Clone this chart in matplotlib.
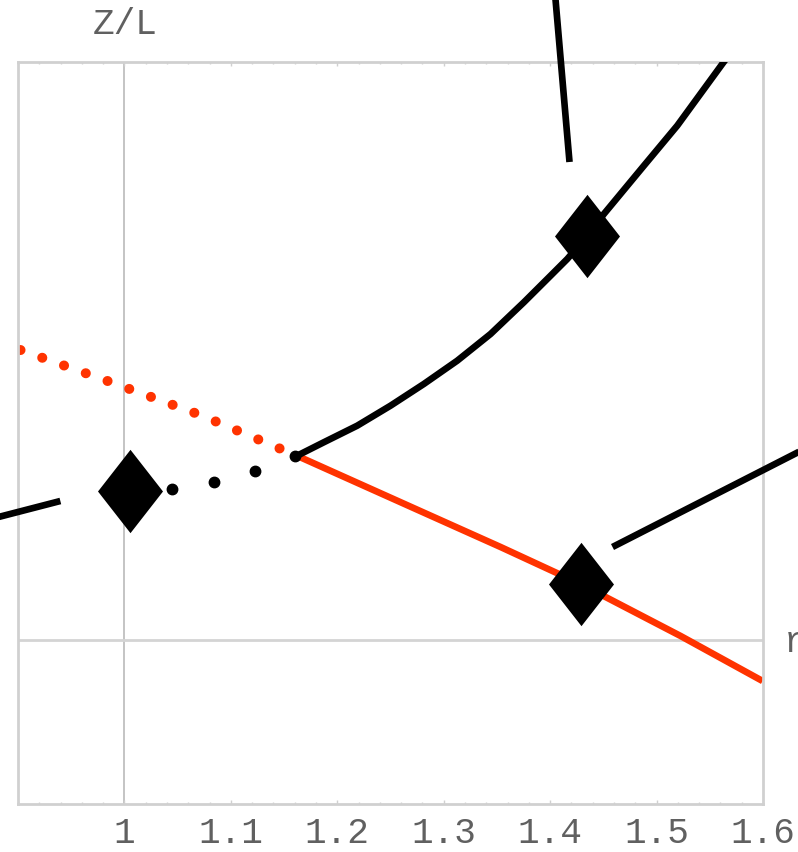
import matplotlib.pyplot as plt
from matplotlib.path import Path

# upper (black) branch, starts at the bifurcation point
upper_r = [1.1623, 1.1873, 1.2187, 1.2500, 1.2813, 1.3127, 1.3440, 1.3753, 1.4004,
           1.4161, 1.4349, 1.4505, 1.4881, 1.5194, 1.5617, 1.5645]
upper_z = [0.9215, 0.9885, 1.0715, 1.1715, 1.28, 1.3965, 1.53, 1.6885, 1.8215,
           1.905, 2.0215, 2.13, 2.3715, 2.5715, 2.88, 2.90]

# lower (red) branch, solid part
lower_r = [1.1626, 1.2716, 1.3534, 1.4286, 1.5226, 1.5996]
lower_z = [0.92, 0.66, 0.465, 0.28, 0.02, -0.205]

# red branch before the bifurcation (unstable, dotted)
unstable_r = [0.9023, 0.9868, 1.0714, 1.1626]
unstable_z = [1.45, 1.29, 1.125, 0.92]

# black dots between the left diamond and the bifurcation point
dots_r = [1.0448, 1.0839, 1.1231, 1.1607]
dots_z = [0.755, 0.791, 0.845, 0.92]

# diamond markers
diamond_r = [1.0056, 1.4349, 1.4286]
diamond_z = [0.7465, 2.0215, 0.28]

# pointer lines (partly outside the frame)
pointers = [
    ([0.8788, 0.9398], [0.611, 0.695]),
    ([1.4046, 1.4182], [3.23, 2.39]),
    ([1.4586, 1.6400], [0.465, 0.958]),
]

xticks = [1.0, 1.1, 1.2, 1.3, 1.4, 1.5, 1.6]
xtick_labels = ['1', '1.1', '1.2', '1.3', '1.4', '1.5', '1.6']

red = '#ff3300'
frame_gray = '#d0d0d0'
text_gray = '#606060'
mono = 'Liberation Mono'

fig = plt.figure(figsize=(7.98, 8.53), dpi=100)
ax = fig.add_axes([18 / 798, 48 / 853, 745 / 798, 742 / 853])
ax.set_xlim(0.9, 1.6)
ax.set_ylim(-0.82, 2.89)

# axes through (1, 0)
ax.axvline(1.0, color='#c4c4c4', lw=1.4, zorder=1)
ax.axhline(0.0, color='#d4d4d4', lw=2.0, zorder=1)

ax.plot(upper_r, upper_z, color='black', lw=4.8, solid_capstyle='round', zorder=3)
ax.plot(lower_r, lower_z, color=red, lw=4.8, solid_capstyle='butt', zorder=2)
ax.plot(unstable_r, unstable_z, color=red, lw=7.2, dash_capstyle='round',
        linestyle=(0, (0.01, 2.3)), zorder=2)
ax.plot(dots_r, dots_z, 'o', color='black', markersize=7.5, zorder=4)

diamond = Path([(0, 1), (0.78, 0), (0, -1), (-0.78, 0), (0, 1)],
               [Path.MOVETO, Path.LINETO, Path.LINETO, Path.LINETO, Path.CLOSEPOLY])
ax.plot(diamond_r, diamond_z, linestyle='none', marker=diamond, markersize=60,
        color='black', markeredgewidth=0, zorder=5)

for px, pz in pointers:
    ax.plot(px, pz, color='black', lw=4.8, solid_capstyle='butt', clip_on=False, zorder=6)

# frame
for s in ax.spines.values():
    s.set_color(frame_gray)
    s.set_linewidth(2.0)

ax.set_xticks(xticks)
ax.set_xticklabels(xtick_labels, fontfamily=mono, fontsize=26, color=text_gray)
ax.set_xticks([0.9 + 0.02 * i for i in range(36)], minor=True)
ax.tick_params(axis='x', which='both', direction='in', top=True, colors=frame_gray,
               labelcolor=text_gray, pad=8)
ax.tick_params(axis='x', which='major', length=3, width=1)
ax.tick_params(axis='x', which='minor', length=1.5, width=1)
ax.set_yticks([])

fig.text(125 / 798, 1 - 25 / 853, 'Z/L', fontfamily=mono, fontsize=26,
         color=text_gray, ha='center', va='center')
fig.text(784 / 798, 1 - 642 / 853, 'r', fontfamily=mono, fontsize=26,
         color=text_gray, ha='left', va='center')

fig.savefig('out.png', dpi=100)
